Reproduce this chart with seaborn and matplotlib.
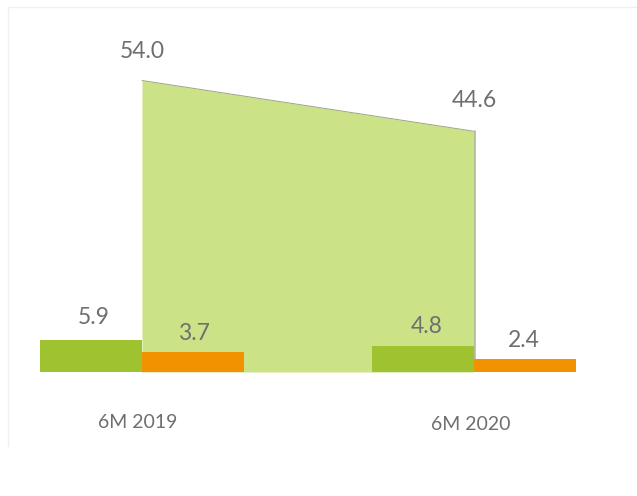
import matplotlib
matplotlib.use("Agg")
import matplotlib.pyplot as plt
import pandas as pd
import seaborn as sns

# data
periods = ["6M 2019", "6M 2020"]
series_names = ["Series A", "Series B"]
bar_a = [5.9, 4.8]
bar_b = [3.7, 2.4]
area_vals = [54.0, 44.6]

GREEN = "#9fc330"
ORANGE = "#f39200"
AREA = "#cae180"
TEXT = "#6f6f6f"
PT = 0.72  # pixels -> points at 100 dpi

sns.set_theme(style="white")
plt.rcParams["font.family"] = ["Lato", "DejaVu Sans"]

df = pd.DataFrame({
    "period": periods * 2,
    "series": [series_names[0]] * 2 + [series_names[1]] * 2,
    "value": bar_a + bar_b,
})

fig = plt.figure(figsize=(6.37, 4.96), dpi=100)
ax = fig.add_axes([0.0144, 0.25, 0.938, 0.653])

# big light-green area between the two category centres
xs = list(range(len(periods)))
ax.fill_between(xs, area_vals, 0, color=AREA, alpha=0.95, zorder=1,
                linewidth=0)
ax.plot(xs, area_vals, color="#9aa585", linewidth=0.7, zorder=1.5)
ax.plot([xs[-1] + 0.004] * 2, [0, area_vals[-1]], color="#7d8a70",
        linewidth=1.2, alpha=0.6, zorder=1.5)

sns.barplot(data=df, x="period", y="value", hue="series",
            palette=[GREEN, ORANGE], width=0.616, gap=0, saturation=1,
            linewidth=0, edgecolor="none", ax=ax, legend=False, zorder=2)

ax.set_xlim(-0.4, 1.4)
ax.set_ylim(0, 60)
ax.set_xticks([])
ax.set_yticks([])
ax.set_xlabel("")
ax.set_ylabel("")
sns.despine(ax=ax, left=True, bottom=True)

# value labels above the bars (pixel offsets taken from the source)
bars = ax.patches
offsets = {0: (3, 23), 1: (4, 19.5), 2: (1, 19), 3: (-1, 19)}
for idx, p in enumerate(bars[:4]):
    dx, dy = offsets[idx]
    ax.annotate(f"{p.get_height():.1f}",
                (p.get_x() + p.get_width() / 2, p.get_height()),
                xytext=(dx * PT, dy * PT), textcoords="offset points",
                ha="center", va="center", fontsize=16.5, color=TEXT)

for x, v, dy in zip(xs, area_vals, [29, 30.5]):
    ax.annotate(f"{v:.1f}", (x, v), xytext=(0, dy * PT),
                textcoords="offset points", ha="center", va="center",
                fontsize=16.5, color=TEXT)

# category labels (slightly staggered, as in the source)
for x, name, dx, dy in zip(xs, periods, [-4.5, -3], [50, 53]):
    ax.annotate(name, (x, 0), xytext=(dx * PT, -dy * PT),
                textcoords="offset points", ha="center", va="center",
                fontsize=14, color=TEXT)

# faint frame of the original slide box
fig.add_artist(plt.Line2D([8 / 637, 1], [1 - 7 / 496] * 2,
                          color="#f0f0f0", linewidth=1))
fig.add_artist(plt.Line2D([8 / 637] * 2, [0.1, 1 - 7 / 496],
                          color="#f0f0f0", linewidth=1))

fig.savefig("out.png", dpi=100)
